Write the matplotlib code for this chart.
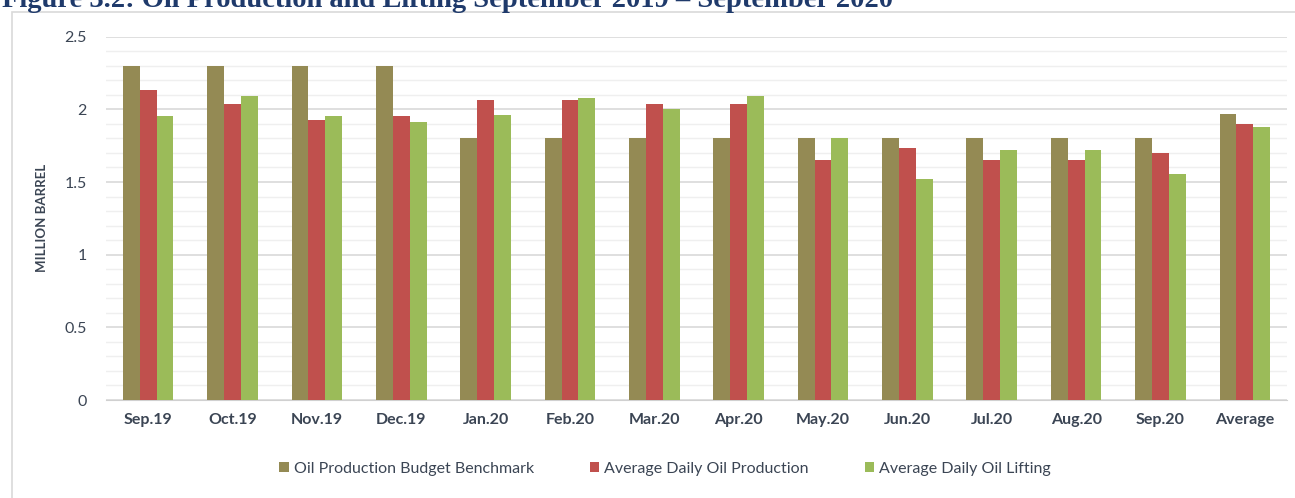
import matplotlib
matplotlib.use("Agg")
import numpy as np
import matplotlib.pyplot as plt
from matplotlib.patches import Rectangle
from matplotlib.ticker import MultipleLocator

months = ['Sep.19', 'Oct.19', 'Nov.19', 'Dec.19', 'Jan.20', 'Feb.20', 'Mar.20',
          'Apr.20', 'May.20', 'Jun.20', 'Jul.20', 'Aug.20', 'Sep.20', 'Average']
budget = [2.3, 2.3, 2.3, 2.3, 1.8, 1.8, 1.8, 1.8, 1.8, 1.8, 1.8, 1.8, 1.8, 1.97]
production = [2.135, 2.04, 1.93, 1.957, 2.065, 2.065, 2.04, 2.04, 1.65, 1.734,
              1.652, 1.652, 1.70, 1.90]
lifting = [1.957, 2.09, 1.957, 1.91, 1.96, 2.076, 2.005, 2.09, 1.805, 1.52,
           1.723, 1.723, 1.557, 1.876]
series_names = ['Oil Production Budget Benchmark', 'Average Daily Oil Production',
                'Average Daily Oil Lifting']
title = 'Figure 3.2: Oil Production and Lifting September 2019 \u2013 September 2020'

colors = ['#948A54', '#C0504D', '#9BBB59']
txt = '#3b4554'
plt.rcParams['font.family'] = ['Lato', 'DejaVu Sans']

fig = plt.figure(figsize=(12.95, 4.98), dpi=100)
# outer frame of the chart box
fig.patches.append(Rectangle((12/1295, -0.05), 1.2, 1 - 12/498 + 0.05,
                             transform=fig.transFigure, fill=False,
                             edgecolor='#d9d9d9', linewidth=1.2))
# title is clipped at the top edge, as in the source page
fig.text(0.0015, 1 - 7/498, title, family=['Liberation Serif', 'DejaVu Serif'],
         fontweight='bold', fontsize=20.5, color='#1f3a6b', va='baseline')

ax = fig.add_axes([106/1295, 1 - 400/498, (1287 - 106)/1295, (400 - 36.7)/498])
x = np.arange(len(months))
w = 0.2
for i, (vals, c, name) in enumerate(zip([budget, production, lifting], colors, series_names)):
    ax.bar(x + (i - 1) * w, vals, w, color=c, label=name, zorder=3)

ax.set_xlim(-0.5, len(months) - 0.5)
ax.set_ylim(0, 2.5)
ax.yaxis.set_minor_locator(MultipleLocator(0.1))
ax.set_yticks([0, 0.5, 1, 1.5, 2, 2.5])
ax.set_yticklabels(['0', '0.5', '1', '1.5', '2', '2.5'])
ax.grid(axis='y', which='major', color='#d9d9d9', linewidth=1.2, zorder=0)
ax.grid(axis='y', which='minor', color='#efefef', linewidth=1.0, zorder=0)
ax.set_xticks(x)
ax.set_xticklabels(months, fontweight='bold')
for s in ['top', 'right', 'left']:
    ax.spines[s].set_visible(False)
ax.spines['bottom'].set_color('#d0d0d0')
ax.tick_params(axis='both', which='both', length=0, colors=txt, labelsize=11.5)
ax.tick_params(axis='y', pad=14)
ax.tick_params(axis='x', pad=9)
ax.set_ylabel('MILLION BARREL', fontweight='bold', fontsize=9.5, color=txt)
ax.yaxis.set_label_coords((48 - 106)/1181, 0.5)

fig.legend(loc='center', bbox_to_anchor=(665/1295, 1 - 469/498), ncol=3,
           frameon=False, fontsize=11.5, handlelength=0.6, handleheight=0.6,
           handletextpad=0.3, columnspacing=3.5, labelcolor=txt)

plt.savefig('out.png', dpi=100)
